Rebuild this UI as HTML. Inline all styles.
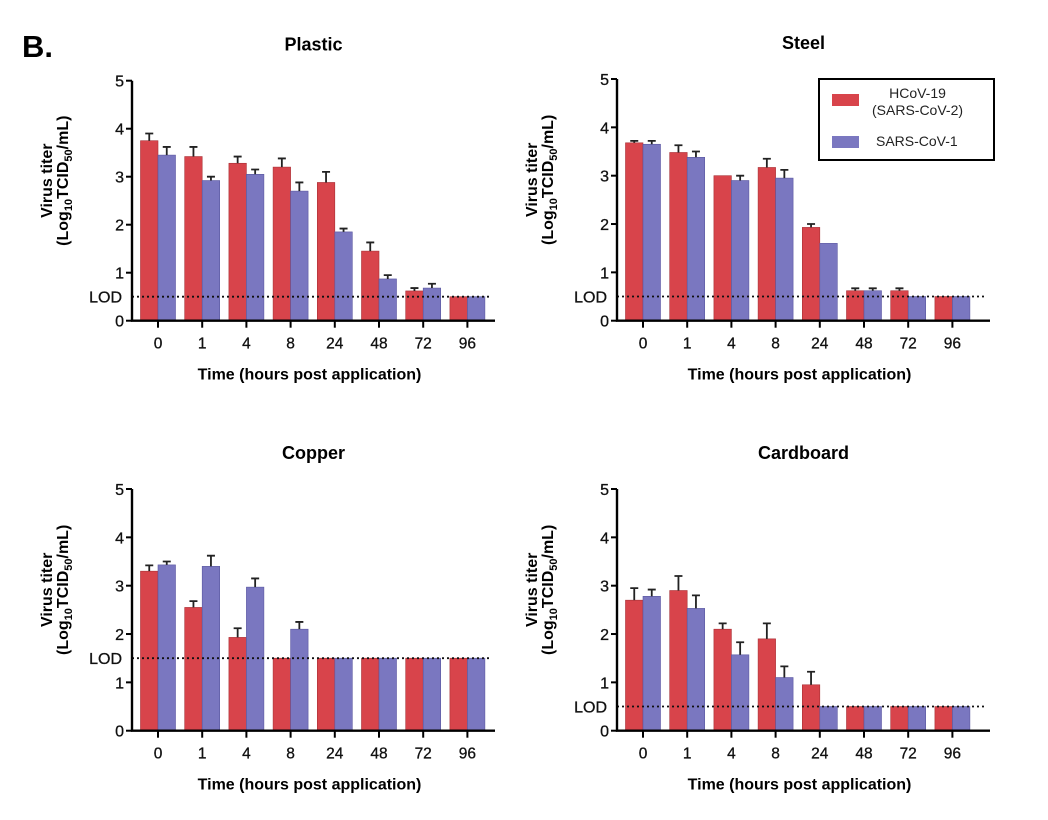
<!DOCTYPE html>
<html><head><meta charset="utf-8"><style>
body{margin:0;background:#fff;}
svg{display:block;font-family:"Liberation Sans",Arial,sans-serif;}
</style></head><body>
<svg id="fig" width="1048" height="820" viewBox="0 0 1048 820">
<text x="22" y="57" font-size="31" font-weight="bold">B.</text>
</svg>
<script>
const categories = ["0","1","4","8","24","48","72","96"];
const yTicks = [0,1,2,3,4,5];
const plasticRed = [3.75,3.42,3.28,3.2,2.88,1.45,0.62,0.5];
const plasticRedErr = [3.9,3.62,3.42,3.38,3.1,1.63,0.68,0.5];
const plasticBlue = [3.45,2.92,3.05,2.7,1.85,0.87,0.68,0.5];
const plasticBlueErr = [3.62,3.0,3.15,2.88,1.92,0.95,0.77,0.5];
const steelRed = [3.68,3.48,3.0,3.17,1.93,0.62,0.62,0.5];
const steelRedErr = [3.72,3.63,3.0,3.35,2.0,0.67,0.67,0.5];
const steelBlue = [3.65,3.38,2.9,2.95,1.6,0.62,0.5,0.5];
const steelBlueErr = [3.72,3.5,3.0,3.12,1.6,0.67,0.5,0.5];
const copperRed = [3.3,2.55,1.93,1.5,1.5,1.5,1.5,1.5];
const copperRedErr = [3.42,2.68,2.12,1.5,1.5,1.5,1.5,1.5];
const copperBlue = [3.43,3.4,2.97,2.1,1.5,1.5,1.5,1.5];
const copperBlueErr = [3.5,3.62,3.15,2.25,1.5,1.5,1.5,1.5];
const cardRed = [2.7,2.9,2.1,1.9,0.95,0.5,0.5,0.5];
const cardRedErr = [2.95,3.2,2.22,2.22,1.22,0.5,0.5,0.5];
const cardBlue = [2.78,2.53,1.57,1.1,0.5,0.5,0.5,0.5];
const cardBlueErr = [2.92,2.8,1.83,1.33,0.5,0.5,0.5,0.5];
const lodPlastic = 0.5, lodSteel = 0.5, lodCopper = 1.5, lodCard = 0.5;

const NS="http://www.w3.org/2000/svg";
const svg=document.getElementById('fig');
function mk(tag,attrs,parent){const e=document.createElementNS(NS,tag);for(const k in attrs)e.setAttribute(k,attrs[k]);(parent||svg).appendChild(e);return e;}
const RED="#d8444b", BLUE="#7a77c0";

function panel(name,title,ax,y0,y5,xEnd,red,redErr,blue,blueErr,lod){
  const g=mk('g',{});
  
  
  const ys=v=>y0-(y0-y5)*v/5;
  const t0=ax+26, step=44.2;
  const xs=i=>t0+i*step;
  const bw=17.5;
  const tt=mk('text',{x:(ax+xEnd)/2,y:y5-30,'text-anchor':'middle','font-size':18,'font-weight':'bold'},g);
  tt.textContent=title;
  
  
  categories.forEach((c,i)=>{
    [[red,redErr,RED,-bw,'red'],[blue,blueErr,BLUE,0,'blue']].forEach(([v,e,col,off,s])=>{
      const x=xs(i)+off;
      const r=mk('rect',{x:x,y:ys(v[i]),width:bw,height:ys(0)-ys(v[i]),fill:col,stroke:s==='red'?'#a83036':'#5a57a0','stroke-width':0.6},g);
      
      
      if(e[i]>v[i]+0.01){
        const cx=x+bw/2;
        const l=mk('path',{d:`M${cx} ${ys(v[i])}V${ys(e[i])}M${cx-4} ${ys(e[i])}H${cx+4}`,stroke:'#222','stroke-width':1.8,fill:'none'},g);
        
        
      }
    });
    mk('line',{x1:xs(i),x2:xs(i),y1:y0,y2:y0+7,stroke:'#000','stroke-width':2},g);
    const tl=mk('text',{x:xs(i),y:y0+28,'text-anchor':'middle','font-size':15.5,fill:'#111',stroke:'#111','stroke-width':0.3},g);
    tl.textContent=c;
    
    
  });
  const lodLine=mk('line',{x1:ax,x2:xEnd-6,y1:ys(lod),y2:ys(lod),stroke:'#111','stroke-width':1.8,'stroke-dasharray':'2 3'},g);
  
  
  const lt=mk('text',{x:ax-10,y:ys(lod)+6,'text-anchor':'end','font-size':16,fill:'#111',stroke:'#111','stroke-width':0.3},g);
  lt.textContent='LOD';
  
  
  yTicks.forEach(v=>{
    if(Math.abs(v-lod)<0.3)return;
    mk('line',{x1:ax-6,x2:ax,y1:ys(v),y2:ys(v),stroke:'#000','stroke-width':2},g);
    const yl=mk('text',{x:ax-8,y:ys(v)+6,'text-anchor':'end','font-size':16,fill:'#111',stroke:'#111','stroke-width':0.3},g);
    yl.textContent=v;
    
    
  });
  mk('path',{d:`M${ax} ${y5}V${y0}H${xEnd}`,stroke:'#000','stroke-width':2.4,fill:'none'},g);
  const xt=mk('text',{x:(ax+xEnd)/2-4,y:y0+59,'text-anchor':'middle','font-size':16,'font-weight':'bold'},g);
  xt.textContent='Time (hours post application)';
  
  
  const cy=(y0+y5)/2-20;
  const yt=mk('text',{transform:`translate(${ax-80},${cy}) rotate(-90)`,'text-anchor':'middle','font-size':16,'font-weight':'bold'},g);
  yt.textContent='Virus titer';
  
  
  const yt2=mk('text',{transform:`translate(${ax-64},${cy}) rotate(-90)`,'text-anchor':'middle','font-size':16,'font-weight':'bold'},g);
  yt2.innerHTML='(Log<tspan font-size="11" dy="4">10</tspan><tspan dy="-4">TCID</tspan><tspan font-size="11" dy="4">50</tspan><tspan dy="-4">/mL)</tspan>';
  
  
}
panel('plastic','Plastic',132,320.7,80.7,495,plasticRed,plasticRedErr,plasticBlue,plasticBlueErr,lodPlastic);
panel('steel','Steel',617,320.7,79,990,steelRed,steelRedErr,steelBlue,steelBlueErr,lodSteel);
panel('copper','Copper',132,730.7,489,495,copperRed,copperRedErr,copperBlue,copperBlueErr,lodCopper);
panel('cardboard','Cardboard',617,730.7,489,990,cardRed,cardRedErr,cardBlue,cardBlueErr,lodCard);
</script>
<div style="position:absolute;left:818px;top:78px;width:173px;height:79px;border:2.5px solid #000;background:#fff;font-family:'Liberation Sans',Arial,sans-serif;font-size:14px;color:#222;">
  <div style="position:absolute;left:12px;top:14px;width:27px;height:12px;background:#d8444b;"></div>
  <div style="position:absolute;left:52px;top:5px;line-height:17px;text-align:center;">HCoV-19<br>(SARS-CoV-2)</div>
  <div style="position:absolute;left:12px;top:56px;width:27px;height:12px;background:#7a77c0;"></div>
  <div style="position:absolute;left:56px;top:53px;">SARS-CoV-1</div>
</div>
</body></html>
